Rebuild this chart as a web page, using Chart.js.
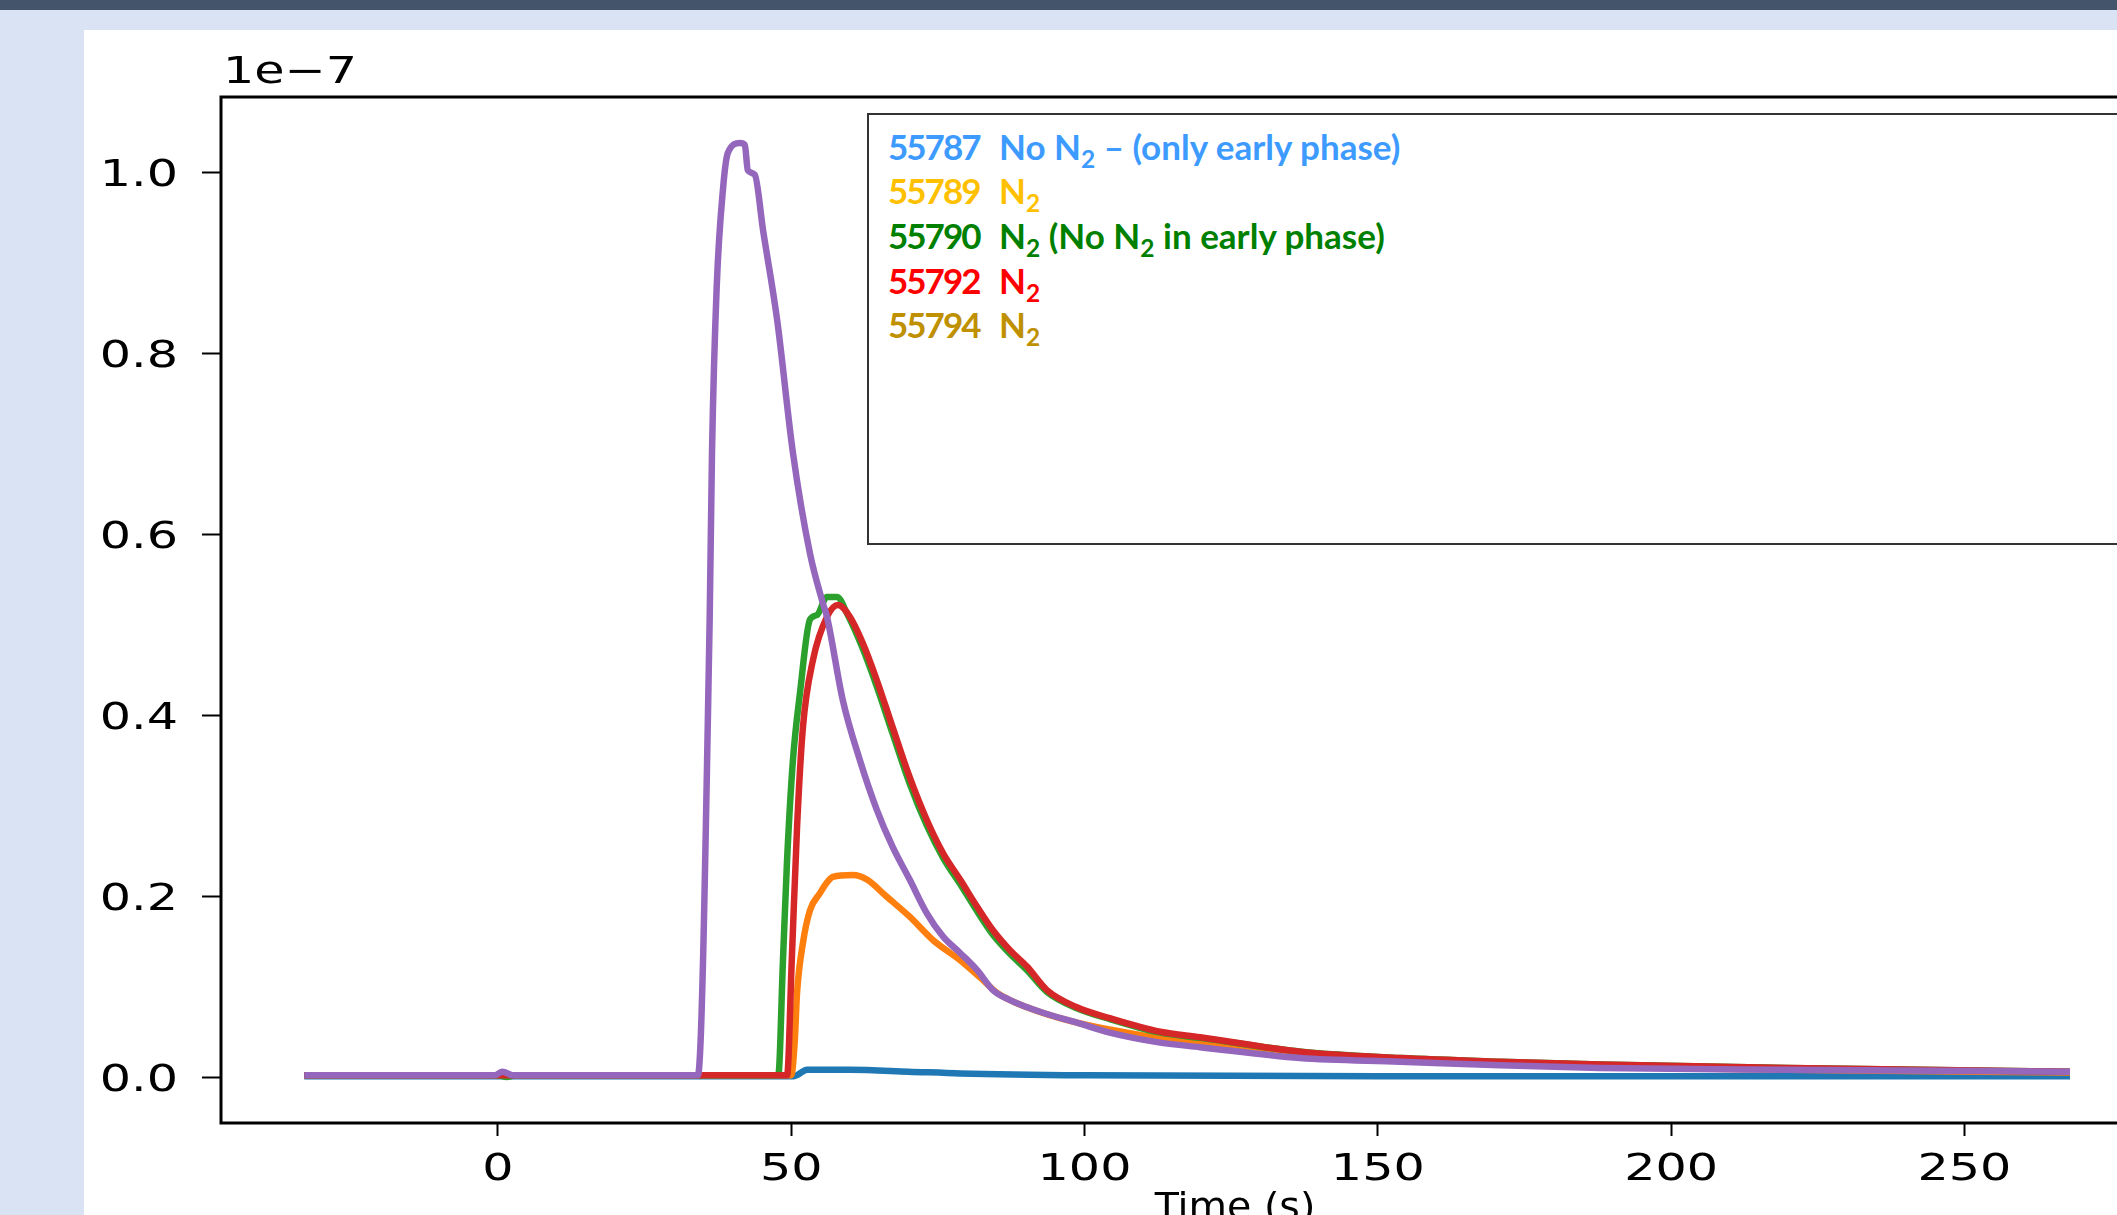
<!DOCTYPE html>
<html>
<head>
<meta charset="utf-8">
<script src="https://cdn.jsdelivr.net/npm/chart.js@4.4.1/dist/chart.umd.min.js"></script>
<style>
  html, body { margin: 0; padding: 0; width: 2117px; height: 1215px; overflow: hidden; background: #dae3f3; }
  #topbar { position: absolute; left: 0; top: 0; width: 2117px; height: 10px; background: #44546a; }
  #panel { position: absolute; left: 84px; top: 30px; width: 2100px; height: 1200px; background: #fff; }
  #chart { position: absolute; left: 84px; top: 30px; }
  #legend { position: absolute; left: 867px; top: 113px; width: 1400px; height: 428px;
            border: 2px solid #333; background: #fff;
            font-family: Lato, "Open Sans", sans-serif; font-weight: bold; font-size: 35px; }
  .row { position: absolute; left: 19px; white-space: nowrap; line-height: 32px; }
  .num { display: inline-block; width: 111px; letter-spacing: -2px; }
  sub { font-size: 0.7em; vertical-align: -0.32em; line-height: 0; }
</style>
</head>
<body>
<div id="topbar"></div>
<div id="panel"></div>
<canvas id="chart" width="2080" height="1200" style="width:2080px;height:1200px"></canvas>
<div id="legend">
  <div class="row" style="top:15px;color:#3d9bff"><span class="num">55787</span>No N<sub>2</sub> – (only early phase)</div>
  <div class="row" style="top:59px;color:#ffc000"><span class="num">55789</span>N<sub>2</sub></div>
  <div class="row" style="top:104px;color:#008000"><span class="num">55790</span>N<sub>2</sub> (No N<sub>2</sub> in early phase)</div>
  <div class="row" style="top:149px;color:#ff0000"><span class="num">55792</span>N<sub>2</sub></div>
  <div class="row" style="top:193px;color:#bf9000"><span class="num">55794</span>N<sub>2</sub></div>
</div>
<script>
// values in units of 1e-7
const xTicks = [0, 50, 100, 150, 200, 250];
const yTicks = [0.0, 0.2, 0.4, 0.6, 0.8, 1.0];

const t55787 = [-33, 50.5, 52.7, 60, 70, 78.8, 100, 150, 200, 268];
const v55787 = [0.002, 0.002, 0.009, 0.009, 0.007, 0.005, 0.003, 0.002, 0.002, 0.002];

const t55789 = [-33, 50.0, 50.6, 51.0, 52.0, 53.2, 54.9, 56.0, 57.1, 60.5, 62.9, 66.3, 70.2, 74.2, 78.8, 82.2, 85.1, 90.2, 98.7, 112.9, 120, 137, 154, 171, 188, 220, 268];
const v55789 = [0.003, 0.003, 0.04, 0.094, 0.149, 0.185, 0.204, 0.215, 0.222, 0.224, 0.219, 0.200, 0.178, 0.152, 0.130, 0.111, 0.094, 0.078, 0.061, 0.044, 0.038, 0.025, 0.019, 0.015, 0.012, 0.009, 0.006];

const t55790 = [-33, 0, 1.5, 3, 47.8, 48.6, 49.3, 50.3, 51.5, 53.2, 54.4, 56.1, 57.8, 59.5, 62.2, 64.6, 67.3, 70.2, 73.1, 75.9, 78.8, 81.7, 84.4, 87.3, 90.2, 93.6, 98.7, 104.3, 112.9, 120, 137, 154, 171, 188, 220, 268];
const v55790 = [0.003, 0.003, 0.001, 0.003, 0.003, 0.13, 0.241, 0.351, 0.425, 0.506, 0.511, 0.531, 0.531, 0.513, 0.474, 0.432, 0.380, 0.325, 0.279, 0.243, 0.214, 0.184, 0.158, 0.137, 0.119, 0.095, 0.077, 0.065, 0.050, 0.044, 0.029, 0.022, 0.018, 0.015, 0.011, 0.007];

const t55792 = [-33, 49.3, 50.1, 51.0, 52.0, 53.7, 56.1, 58.0, 60.0, 62.2, 64.6, 67.3, 70.2, 73.1, 75.9, 78.8, 81.7, 84.4, 87.3, 90.2, 93.6, 98.7, 104.3, 112.9, 119.7, 136.7, 153.8, 170.8, 187.9, 220, 268];
const v55792 = [0.003, 0.003, 0.13, 0.277, 0.387, 0.461, 0.509, 0.522, 0.509, 0.480, 0.439, 0.387, 0.332, 0.285, 0.248, 0.219, 0.189, 0.163, 0.141, 0.123, 0.097, 0.078, 0.066, 0.051, 0.045, 0.029, 0.022, 0.018, 0.015, 0.011, 0.007];

const t55794 = [-33, -0.5, 0.8, 2.5, 34.1, 36.1, 36.5, 37.3, 38.4, 39.2, 41.3, 42.1, 42.6, 43.8, 45.2, 47.6, 50.3, 53.2, 55.4, 56.1, 58.8, 61.7, 64.6, 67.3, 70.2, 73.1, 75.9, 78.8, 81.7, 84.4, 87.3, 92.9, 98.7, 104.3, 112.9, 119.7, 136.7, 153.8, 170.8, 187.9, 220, 268];
const v55794 = [0.003, 0.003, 0.007, 0.003, 0.003, 0.505, 0.69, 0.873, 0.983, 1.021, 1.032, 1.030, 1.002, 0.997, 0.936, 0.837, 0.69, 0.579, 0.524, 0.509, 0.417, 0.351, 0.296, 0.255, 0.219, 0.182, 0.156, 0.138, 0.119, 0.097, 0.086, 0.072, 0.061, 0.050, 0.039, 0.034, 0.022, 0.018, 0.014, 0.011, 0.009, 0.007];

function pts(ts, vs) {
    return ts.map((t, i) => ({ x: t, y: vs[i] }));
}

function line(ts, vs, color, order) {
    return {
        data: pts(ts, vs),
        borderColor: color,
        borderWidth: 6.5,
        pointRadius: 0,
        cubicInterpolationMode: 'monotone',
        borderJoinStyle: 'round',
        order: order
    };
}

const tickFont = '37px "DejaVu Sans"';
const stretch = 1.33;

function drawStretched(ctx, text, x, y, align, sx) {
    ctx.save();
    ctx.translate(x, y);
    ctx.scale(sx, 1);
    ctx.textAlign = align;
    ctx.fillText(text, 0, 0);
    ctx.restore();
}

const axisLook = {
    id: 'axisLook',
    afterDraw(chart) {
        const { ctx, chartArea, scales } = chart;
        ctx.save();
        ctx.strokeStyle = '#000';
        ctx.lineWidth = 3;
        ctx.strokeRect(chartArea.left, chartArea.top, chartArea.right - chartArea.left, chartArea.bottom - chartArea.top);
        ctx.fillStyle = '#000';
        ctx.font = tickFont;
        ctx.textBaseline = 'alphabetic';
        scales.x.ticks.forEach(t => drawStretched(ctx, String(t.value), scales.x.getPixelForValue(t.value), chartArea.bottom + 57, 'center', stretch));
        scales.y.ticks.forEach(t => drawStretched(ctx, t.value.toFixed(1), chartArea.left - 43, scales.y.getPixelForValue(t.value) + 13.5, 'right', stretch));
        drawStretched(ctx, '1e\u22127', chartArea.left + 2, chartArea.top - 14, 'left', stretch);
        // axis title sits right of centre in the original
        ctx.font = '38px "DejaVu Sans"';
        drawStretched(ctx, 'Time (s)', 1151, chartArea.bottom + 96, 'center', 1.04);
        ctx.restore();
    }
};

new Chart(document.getElementById('chart'), {
    type: 'line',
    data: {
        datasets: [
            line(t55787, v55787, '#1f77b4', 5),
            line(t55789, v55789, '#ff7f0e', 4),
            line(t55790, v55790, '#2ca02c', 3),
            line(t55792, v55792, '#d62728', 2),
            line(t55794, v55794, '#9467bd', 1)
        ]
    },
    options: {
        responsive: false,
        animation: false,
        layout: { padding: { left: 0, top: 67, right: 6, bottom: 2 } },
        plugins: { legend: { display: false }, tooltip: { enabled: false } },
        scales: {
            x: {
                type: 'linear',
                min: -47.2,
                max: 283,
                afterBuildTicks: (s) => { s.ticks = xTicks.map(v => ({ value: v })); },
                afterFit: (s) => { s.height = 105; },
                ticks: { display: false },
                grid: { drawOnChartArea: false, tickLength: 13, tickWidth: 2, tickColor: '#000' },
                border: { display: false }
            },
            y: {
                min: -0.0497,
                max: 1.0828,
                afterBuildTicks: (s) => { s.ticks = yTicks.map(v => ({ value: v })); },
                afterFit: (s) => { s.width = 137; },
                ticks: { display: false },
                grid: { drawOnChartArea: false, tickLength: 19, tickWidth: 2, tickColor: '#000' },
                border: { display: false }
            }
        }
    },
    plugins: [axisLook]
});
</script>
</body>
</html>
